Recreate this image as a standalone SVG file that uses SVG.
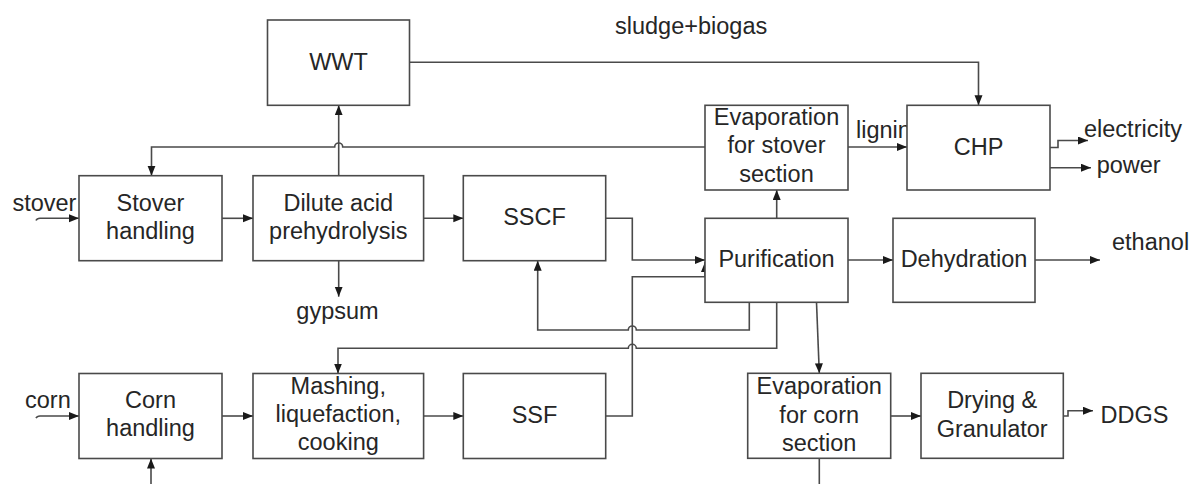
<svg xmlns="http://www.w3.org/2000/svg" width="1192" height="484" viewBox="0 0 1192 484">
  <defs>
    <marker id="arrow" markerUnits="userSpaceOnUse" markerWidth="11" markerHeight="9" refX="10" refY="4" orient="auto">
      <path d="M0,0 L10,4 L0,8 z" fill="#1a1a1a"/>
    </marker>
    <style>
      .box { fill: #ffffff; stroke: #4a4a4a; stroke-width: 1.6; }
      .lbl { font-family: "Liberation Sans", Arial, sans-serif; font-size: 23.5px; fill: #262626; }
      .mid { text-anchor: middle; }
      .wire { fill: none; stroke: #4a4a4a; stroke-width: 1.6; }
      .arr { marker-end: url(#arrow); }
    </style>
  </defs>
  <rect width="1192" height="484" fill="#ffffff"/>

  <!-- connectors -->
  <g id="connectors">
    <path class="wire arr" d="M36,220.5 q1,-2.2 4,-2.2 H79"/>
    <path class="wire arr" d="M222,218.3 H253"/>
    <path class="wire arr" d="M423.6,218.3 H463.3"/>
    <path class="wire arr" d="M338.7,175.7 V105.3"/>
    <path class="wire arr" d="M338.7,260.7 V296.7"/>
    <path class="wire arr" d="M409.5,62.3 H978.5 V105.3"/>
    <path class="wire arr" d="M705,147 H342.7 a4,4 0 0 0 -8,0 H151.5 V175.7"/>
    <path class="wire arr" d="M848,147 H907"/>
    <path class="wire arr" d="M1050,147.5 H1058 V140.5 H1088"/>
    <path class="wire arr" d="M1050,167.7 H1091"/>
    <path class="wire arr" d="M605.7,218.3 H632.3 V260 H705"/>
    <path class="wire arr" d="M605.7,416 H632.3 V276.7 H705 V262"/>
    <path class="wire arr" d="M776.7,218.3 V190"/>
    <path class="wire arr" d="M848,260 H893"/>
    <path class="wire arr" d="M1035,260 H1100"/>
    <path class="wire arr" d="M749.3,302.3 V330 H636.3 a4,4 0 0 0 -8,0 H537.7 V260.7"/>
    <path class="wire arr" d="M776.7,302.3 V348.3 H636.3 a4,4 0 0 0 -8,0 H338 V373.5"/>
    <path class="wire arr" d="M816.5,302.3 L819.3,373.3"/>
    <path class="wire arr" d="M36,418.2 q1,-2.2 4,-2.2 H79"/>
    <path class="wire arr" d="M222,416 H253"/>
    <path class="wire arr" d="M423.6,416 H463.3"/>
    <path class="wire arr" d="M151,484 V458.5"/>
    <path class="wire arr" d="M890.7,416 H921"/>
    <path class="wire arr" d="M1063.3,416 H1068 V410.7 H1093"/>
    <path class="wire" d="M819.3,458.3 V484"/>
  </g>

  <!-- stream labels -->
  <g id="streams">
    <text class="lbl" x="615" y="34.3">sludge+biogas</text>
    <text class="lbl" x="12.4" y="211">stover</text>
    <text class="lbl" x="25" y="408.3">corn</text>
    <text class="lbl mid" x="337.5" y="318.5">gypsum</text>
    <text class="lbl" x="856" y="138">lignin</text>
    <text class="lbl" x="1084" y="137.3">electricity</text>
    <text class="lbl" x="1096.7" y="172.7">power</text>
    <text class="lbl" x="1112" y="250">ethanol</text>
    <text class="lbl" x="1100.5" y="422.7">DDGS</text>
  </g>

  <!-- process units -->
  <g id="wwt">
    <rect class="box" x="267.5" y="20" width="142" height="85.3"/>
    <text class="lbl mid" x="338.5" y="69.5">WWT</text>
  </g>
  <g id="stover-handling">
    <rect class="box" x="79" y="175.7" width="143" height="85"/>
    <text class="lbl mid" x="150.5" y="211">Stover</text>
    <text class="lbl mid" x="150.5" y="239">handling</text>
  </g>
  <g id="dilute-acid">
    <rect class="box" x="253" y="175.7" width="170.6" height="85"/>
    <text class="lbl mid" x="338.3" y="211">Dilute acid</text>
    <text class="lbl mid" x="338.3" y="239">prehydrolysis</text>
  </g>
  <g id="sscf">
    <rect class="box" x="463.3" y="175.7" width="142.4" height="85"/>
    <text class="lbl mid" x="534.5" y="225">SSCF</text>
  </g>
  <g id="evap-stover">
    <rect class="box" x="705" y="105.3" width="143" height="84.7"/>
    <text class="lbl mid" x="776.5" y="125">Evaporation</text>
    <text class="lbl mid" x="776.5" y="153.3">for stover</text>
    <text class="lbl mid" x="776.5" y="181.7">section</text>
  </g>
  <g id="chp">
    <rect class="box" x="907" y="105.3" width="143" height="84.7"/>
    <text class="lbl mid" x="978.5" y="155">CHP</text>
  </g>
  <g id="purification">
    <rect class="box" x="705" y="218.3" width="143" height="84"/>
    <text class="lbl mid" x="776.5" y="266.7">Purification</text>
  </g>
  <g id="dehydration">
    <rect class="box" x="893" y="218.3" width="142" height="84"/>
    <text class="lbl mid" x="964" y="266.7">Dehydration</text>
  </g>
  <g id="corn-handling">
    <rect class="box" x="79" y="373.5" width="143" height="85"/>
    <text class="lbl mid" x="150.5" y="408.3">Corn</text>
    <text class="lbl mid" x="150.5" y="436.3">handling</text>
  </g>
  <g id="mashing">
    <rect class="box" x="253" y="373.5" width="170.6" height="85"/>
    <text class="lbl mid" x="338.3" y="393.5">Mashing,</text>
    <text class="lbl mid" x="338.3" y="422.3">liquefaction,</text>
    <text class="lbl mid" x="338.3" y="450.3">cooking</text>
  </g>
  <g id="ssf">
    <rect class="box" x="463.3" y="373.5" width="142.4" height="85"/>
    <text class="lbl mid" x="534.5" y="423">SSF</text>
  </g>
  <g id="evap-corn">
    <rect class="box" x="747.7" y="373.3" width="143" height="85"/>
    <text class="lbl mid" x="819.2" y="394.3">Evaporation</text>
    <text class="lbl mid" x="819.2" y="422.7">for corn</text>
    <text class="lbl mid" x="819.2" y="450.5">section</text>
  </g>
  <g id="drying">
    <rect class="box" x="921" y="373.3" width="142.3" height="85"/>
    <text class="lbl mid" x="992.2" y="408.3">Drying &amp;</text>
    <text class="lbl mid" x="992.2" y="436.7">Granulator</text>
  </g>
</svg>
